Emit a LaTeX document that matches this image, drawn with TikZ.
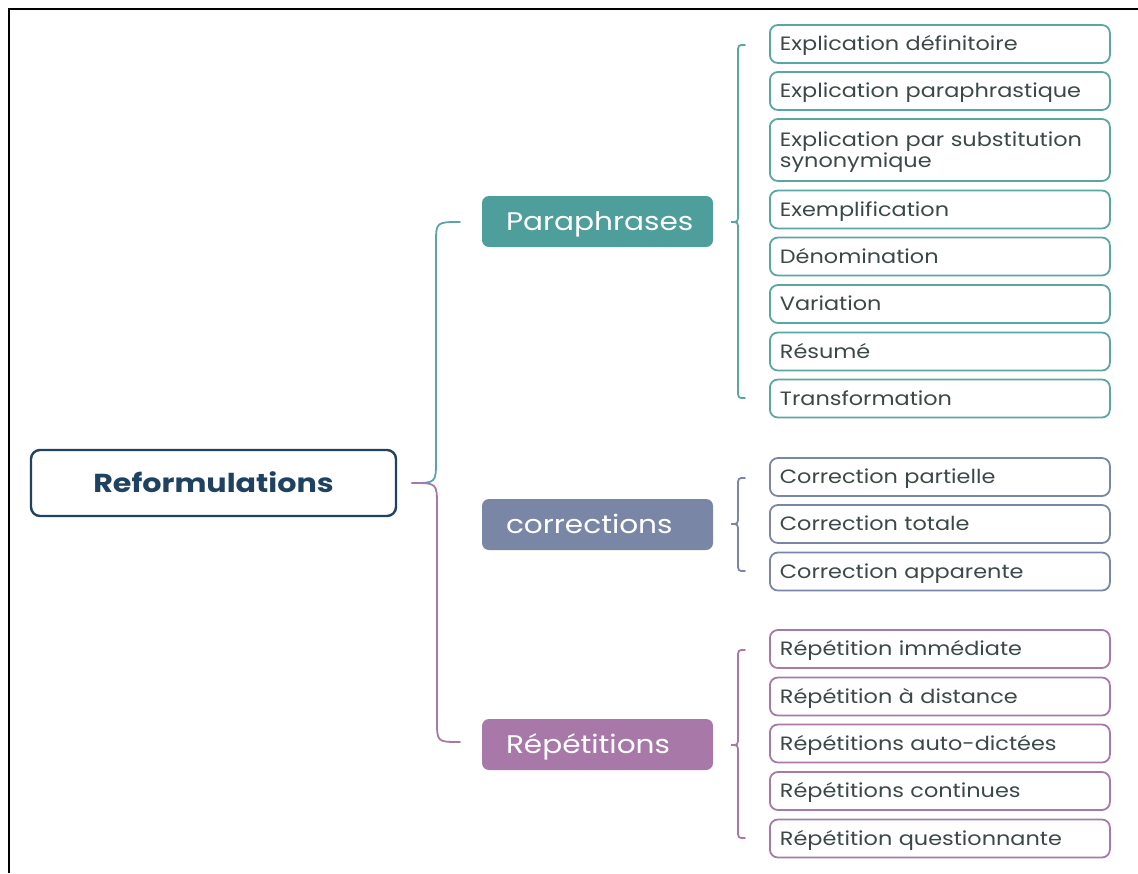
\documentclass[tikz,border=0pt]{standalone}
\usepackage{fontspec}
\setmainfont{Poppins}[FakeStretch=1.16]
\definecolor{teal1}{HTML}{4E9E9B}
\definecolor{tealline}{HTML}{5AA6A3}
\definecolor{slate1}{HTML}{7A86A6}
\definecolor{purp1}{HTML}{A879A8}
\definecolor{navy1}{HTML}{1F4260}
\definecolor{itemtext}{HTML}{3C4848}
\tikzset{
  item/.style={draw, line width=1.8pt, rounded corners=8pt, fill=white,
    anchor=west, text width=320pt, align=left, inner xsep=10pt, inner ysep=0pt,
    minimum height=38pt, text height=15.4pt, text depth=2pt,
    font=\fontsize{19.3}{21}\selectfont, text=itemtext},
  mid/.style={rounded corners=7pt, minimum width=231pt, minimum height=51pt,
    text width=183pt, align=left, inner xsep=24pt, inner ysep=0pt,
    text height=19.9pt, text depth=2pt,
    text=white, font=\fontsize{25.5}{30}\selectfont},
  brc/.style={line width=1.8pt, line cap=round},
}
\begin{document}
\begin{tikzpicture}[x=1pt,y=-1pt]
\useasboundingbox (0,0) rectangle (1138,873);
\draw[line width=2.6pt] (9,873) -- (9,9) -- (1138,9);

% root
\node[draw=navy1, line width=2.4pt, rounded corners=9pt, minimum width=365pt, minimum height=66pt,
  text height=20.2pt, text depth=2pt,
  font=\fontsize{26}{30}\selectfont\bfseries, text=navy1] (root) at (213.5,483) {Reformulations};

% middle nodes
\node[mid, fill=teal1] (para) at (597.5,221.5) {Paraphrases};
\node[mid, fill=slate1] (corr) at (597.5,524.5) {corrections};
\node[mid, fill=purp1] (rep) at (597.5,744.5) {Répétitions};

% main brace
\coordinate (cusp) at (412,483);
\coordinate (ptop) at (460,222);
\coordinate (rbot) at (460,742);
\draw[brc, tealline] (ptop) .. controls (436,222) .. (436,244) -- (436,460) .. controls (436,483) .. (cusp);
\draw[brc, purp1] (cusp) .. controls (437,483) .. (437,506) -- (437,720) .. controls (437,742) .. (rbot);

% paraphrase items
\begin{scope}[every node/.style={item, draw=tealline}]
\node (p1) at (769,44) {Explication définitoire};
\node (p2) at (769,91) {Explication paraphrastique};
\node[minimum height=62pt, text height=15pt, text depth=22pt] (p3) at (769,150) {Explication par substitution\\synonymique};
\node (p4) at (769,209.5) {Exemplification};
\node (p5) at (769,256.5) {Dénomination};
\node (p6) at (769,304) {Variation};
\node (p7) at (769,351.5) {Résumé};
\node (p8) at (769,398.5) {Transformation};
\end{scope}

\begin{scope}[every node/.style={item, draw=slate1}]
\node (c1) at (769,477) {Correction partielle};
\node (c2) at (769,524) {Correction totale};
\node (c3) at (769,571.5) {Correction apparente};
\end{scope}

\begin{scope}[every node/.style={item, draw=purp1}]
\node (r1) at (769,649) {Répétition immédiate};
\node (r2) at (769,696.5) {Répétition à distance};
\node (r3) at (769,743.5) {Répétitions auto-dictées};
\node (r4) at (769,791) {Répétitions continues};
\node (r5) at (769,838.5) {Répétition questionnante};
\end{scope}

% sub braces
\draw[brc, tealline] (745,45) .. controls (738,45) .. (738,53) -- (738,214) .. controls (738,222) .. (731,222)
   .. controls (738,222) .. (738,230) -- (738,390) .. controls (738,398) .. (745,398);
\draw[brc, slate1] (745,478) .. controls (738,478) .. (738,486) -- (738,516) .. controls (738,524) .. (731,524)
   .. controls (738,524) .. (738,532) -- (738,563) .. controls (738,571) .. (745,571);
\draw[brc, purp1] (745,650) .. controls (738,650) .. (738,658) -- (738,737) .. controls (738,745) .. (731,745)
   .. controls (738,745) .. (738,753) -- (738,830) .. controls (738,838) .. (745,838);
\end{tikzpicture}
\end{document}
